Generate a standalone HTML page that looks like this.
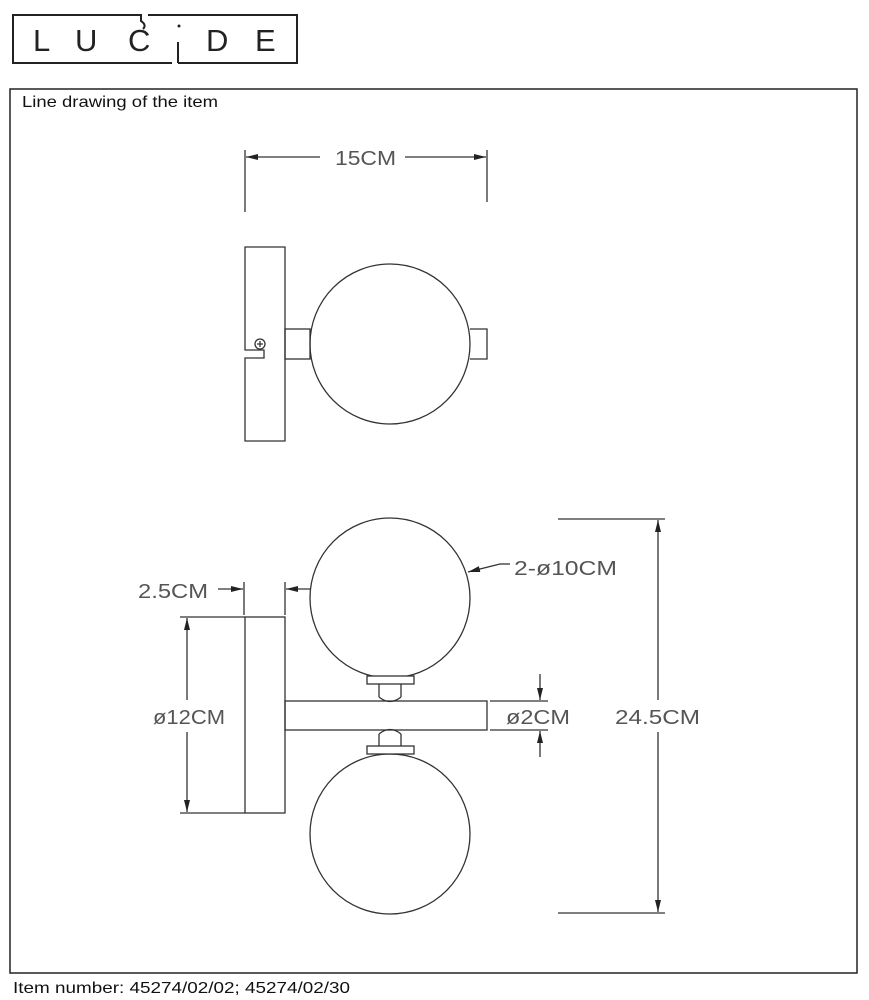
<!DOCTYPE html>
<html><head><meta charset="utf-8"><style>
body{margin:0;background:#fff;width:869px;height:1000px;overflow:hidden;font-family:"Liberation Sans",sans-serif}
svg{position:absolute;left:0;top:0}
</style></head><body>
<svg width="869" height="1000" viewBox="0 0 869 1000">
<defs><marker id="a" markerWidth="12" markerHeight="6" refX="12" refY="3" orient="auto" markerUnits="userSpaceOnUse"><path d="M0,0 L12,3 L0,6 z" fill="#222"/></marker></defs>
<g fill="none" stroke="#222" stroke-width="2">
<path d="M148,15 L297,15 L297,63 L178,63 M172,63 L13,63 L13,15 L141,15 L141,21 Q147,25 143,29"/>
<line x1="178" y1="63" x2="178" y2="42"/>
</g>
<g font-size="31" fill="#222" font-family="Liberation Sans,sans-serif">
<text x="33" y="51">L</text><text x="75" y="51">U</text><text x="128" y="51">C</text>
<circle cx="179" cy="26" r="1.5"/><text x="206" y="51">D</text><text x="255" y="51">E</text>
</g>
<rect x="10" y="89" width="847" height="884" fill="none" stroke="#222" stroke-width="1.5"/>
<text x="22" y="107" font-size="16" fill="#111" textLength="196" lengthAdjust="spacingAndGlyphs">Line drawing of the item</text>
<text x="13" y="993" font-size="16" fill="#111" textLength="337" lengthAdjust="spacingAndGlyphs">Item number: 45274/02/02; 45274/02/30</text>
<g fill="none" stroke="#333" stroke-width="1.3">
<line x1="245" y1="150" x2="245" y2="212"/><line x1="487" y1="150" x2="487" y2="202"/>
<line x1="320" y1="157" x2="246" y2="157" marker-end="url(#a)"/><line x1="405" y1="157" x2="486" y2="157" marker-end="url(#a)"/>
<path d="M245,247 L285,247 L285,441 L245,441 L245,358 L264,358 L264,350 L245,350 Z"/>
<circle cx="260" cy="344" r="5"/><path d="M257,344h6M260,341v6"/>
<rect x="285" y="329" width="25" height="30"/>
<circle cx="390" cy="344" r="80"/>
<path d="M470,329 L487,329 L487,359 L470,359"/>
<rect x="245" y="617" width="40" height="196"/>
<rect x="285" y="701" width="202" height="29"/>
<circle cx="390" cy="598" r="80"/>
<circle cx="390" cy="834" r="80"/>
<rect x="367" y="676" width="47" height="8" fill="#fff"/>
<path d="M379,684 V697 M401,684 V697 M379,697 Q390,706 401,697"/>
<rect x="367" y="746" width="47" height="8" fill="#fff"/>
<path d="M379,746 V734 M401,746 V734 M379,734 Q390,725 401,734"/>
<line x1="558" y1="519" x2="665" y2="519"/><line x1="558" y1="913" x2="665" y2="913"/>
<line x1="658" y1="700" x2="658" y2="520" marker-end="url(#a)"/><line x1="658" y1="732" x2="658" y2="912" marker-end="url(#a)"/>
<line x1="180" y1="617" x2="245" y2="617"/><line x1="180" y1="813" x2="245" y2="813"/>
<line x1="187" y1="700" x2="187" y2="618" marker-end="url(#a)"/><line x1="187" y1="732" x2="187" y2="812" marker-end="url(#a)"/>
<line x1="244" y1="582" x2="244" y2="615"/><line x1="285" y1="582" x2="285" y2="615"/>
<line x1="218" y1="589" x2="243" y2="589" marker-end="url(#a)"/><line x1="310" y1="589" x2="286" y2="589" marker-end="url(#a)"/>
<line x1="490" y1="701" x2="548" y2="701"/><line x1="490" y1="730" x2="548" y2="730"/>
<line x1="540" y1="674" x2="540" y2="700" marker-end="url(#a)"/><line x1="540" y1="757" x2="540" y2="731" marker-end="url(#a)"/>
<line x1="500" y1="564" x2="468" y2="572" marker-end="url(#a)"/><line x1="500" y1="564" x2="510" y2="564"/>
</g>
<g font-size="20" fill="#555" font-family="Liberation Sans,sans-serif" lengthAdjust="spacingAndGlyphs">
<text x="335" y="165" textLength="61" lengthAdjust="spacingAndGlyphs">15CM</text>
<text x="138" y="598" textLength="70" lengthAdjust="spacingAndGlyphs">2.5CM</text>
<text x="514" y="575" textLength="103" lengthAdjust="spacingAndGlyphs">2-ø10CM</text>
<text x="153" y="724" textLength="72" lengthAdjust="spacingAndGlyphs">ø12CM</text>
<text x="506" y="724" textLength="64" lengthAdjust="spacingAndGlyphs">ø2CM</text>
<text x="615" y="724" textLength="85" lengthAdjust="spacingAndGlyphs">24.5CM</text>
</g>
</svg>
</body></html>
